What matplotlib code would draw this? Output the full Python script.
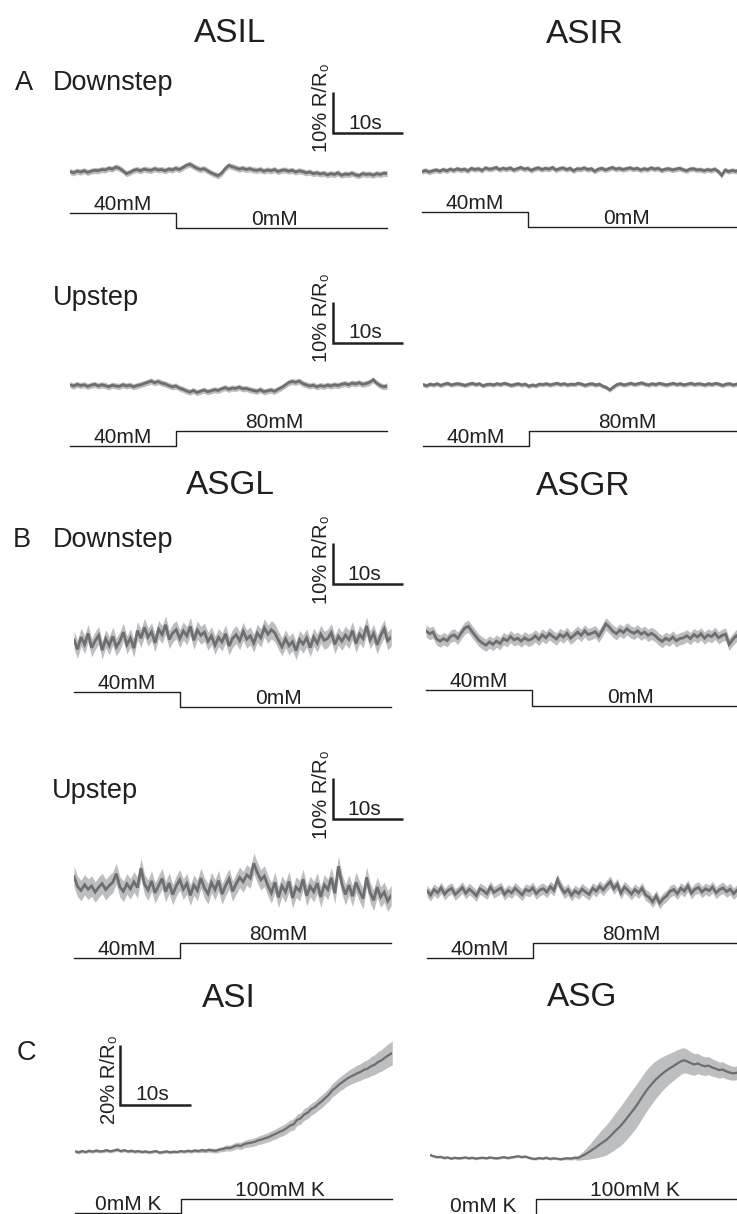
import numpy as np
import matplotlib.pyplot as plt

# ===========================
# Dados (valores lidos da figura, em % R/R0, amostrados a cada 0,5 s)
# ===========================
time = np.linspace(0, 45, 91)
step_time = 15

# A - ASI, downstep 40 -> 0 mM
asil_down = [0.1, -0.2, 0.2, 0.0, 0.3, -0.1, 0.2, 0.4, 0.3, 0.6,
             0.5, 0.9, 0.7, 1.2, 0.9, 0.3, -0.4, -0.1, 0.4, 0.6,
             0.3, 0.7, 0.5, 0.4, 0.8, 0.5, 0.6, 0.3, 0.7, 0.5,
             0.9, 0.6, 1.1, 1.6, 1.9, 1.4, 0.9, 0.6, 0.8, 0.3,
             -0.2, -0.6, -0.9, -0.3, 0.8, 1.6, 1.3, 1.0, 0.7, 0.9,
             0.6, 0.8, 0.5, 0.4, 0.6, 0.2, 0.5, 0.3, 0.6, 0.1,
             0.4, 0.5, 0.2, 0.4, 0.0, 0.3, 0.1, -0.2, 0.0, -0.4,
             -0.2, -0.5, -0.3, -0.7, -0.4, -0.6, -0.2, -0.8, -0.5, -0.6,
             -0.3, -0.7, -0.9, -0.4, -0.6, -0.5, -0.8, -0.4, -0.6, -0.3,
             -0.4]
asir_down = [-0.4, -0.1, -0.5, -0.2, 0.0, -0.3, 0.1, -0.2, 0.2, -0.1,
             0.3, 0.0, 0.2, -0.2, 0.4, 0.1, 0.3, -0.1, 0.5, 0.2,
             0.3, 0.6, 0.1, 0.4, 0.2, 0.5, 0.0, 0.3, 0.6, 0.2,
             0.4, -0.1, 0.3, 0.5, 0.1, 0.4, 0.2, 0.6, 0.0, 0.3,
             0.5, 0.1, 0.4, -0.2, 0.3, 0.2, 0.5, 0.1, 0.3, -0.3,
             0.2, 0.4, 0.0, 0.3, 0.6, 0.2, 0.4, 0.1, 0.3, 0.5,
             0.2, 0.4, 0.0, 0.3, 0.1, 0.5, 0.2, 0.4, -0.1, 0.2,
             0.3, 0.0, 0.2, 0.4, 0.1, -0.2, 0.2, 0.3, 0.0, 0.1,
             -0.2, 0.1, -0.1, 0.2, -0.3, -1.3, 0.0, -0.4, -0.1, -0.3,
             0.0]

# A - ASI, upstep 40 -> 80 mM
asil_up = [0.3, 0.0, 0.4, 0.1, 0.3, -0.1, 0.2, 0.4, 0.0, 0.3,
           0.1, -0.2, 0.2, 0.0, -0.1, 0.3, 0.0, 0.2, -0.2, 0.1,
           0.3, 0.6, 0.9, 1.2, 0.8, 1.1, 0.7, 0.5,
           0.1, -0.2, 0.0, -0.5, -0.8,
           -1.2, -1.5, -1.1, -1.6, -1.3, -1.0, -1.4, -1.2, -0.9, -1.1,
           -0.7, -0.4, -0.8, -0.5, -0.6, -0.3, -0.7, -0.6, -0.9,
           -1.1, -1.3, -0.9, -1.4, -1.2, -1.0, -1.3, -0.8, -0.4,
           0.2, 0.8, 1.1, 0.9, 1.2, 0.6,
           0.3, 0.0, 0.2, -0.2, 0.1, -0.1, 0.2, 0.0, 0.3, 0.1,
           0.4, 0.6, 0.3, 0.7, 0.5, 0.8, 0.4, 0.6, 0.9, 1.5,
           0.7, 0.1, -0.2, 0.0]
asir_up = [0.1, -0.2, 0.2, 0.0, 0.3, -0.1, 0.2, 0.4, 0.0, 0.2,
           0.3, 0.1, -0.1, 0.2, 0.4, 0.1, 0.3, -0.2, 0.1, 0.2,
           0.0, 0.3, 0.1, 0.4, 0.2, -0.1, 0.1, 0.3, 0.0, 0.2,
           -0.3, 0.0, -0.2, 0.2, 0.1, 0.3, 0.0, 0.2, 0.4, 0.1,
           0.3, 0.0, 0.2, 0.1, 0.4, 0.2, -0.1, 0.2, 0.3, 0.0,
           0.2, -0.3, -0.6, -1.2, -0.5, 0.1, 0.3, 0.0, 0.2, 0.4,
           0.1, 0.3, 0.5, 0.2, 0.0, 0.3, 0.1, 0.4, 0.2, 0.0,
           0.2, 0.4, 0.1, 0.3, 0.0, 0.2, 0.4, 0.1, 0.3, 0.2,
           0.0, 0.3, 0.1, 0.4, 0.2, -0.1, 0.2, 0.3, 0.0, 0.2,
           0.1]

# B - ASG, downstep 40 -> 0 mM
asgl_down = [0.5, -1.8, 1.2, -0.6, 2.1, -1.4, 0.3, 1.6, -2.0, 0.8,
             -0.9, 1.4, -1.2, 0.2, 2.4, -0.7, 1.0, -1.5,
             2.8, 0.9, 3.6, 1.2, 2.5, -0.2, 3.1, 1.8, 4.2, 0.6,
             2.2, 3.0, 0.8, 2.7, 1.5, 3.8, 0.4, 2.9, 1.6, 2.4,
             0.2, 1.5, -0.8, 1.1, 0.0, 2.0, -1.0, 0.9,
             1.8, 0.3, 2.6, 0.7, 1.5, -0.3, 2.2, 1.0,
             3.5, 1.9, 3.0, 2.2,
             0.4, -1.2, 0.8, -0.9, 0.1, -2.1, 0.6, -0.5, 1.0, -1.4,
             1.2, -0.3, 1.9, 0.4, 0.9, 2.3, -0.6, 1.4, 0.2, 1.7,
             0.6, 2.8, -0.4, 1.9, 0.8, 3.9, 0.5, 2.1, -0.7, 1.6,
             3.2, 0.3, 1.2]
asgr_down = [1.5, 0.8, 1.2, -0.5, -1.0, -0.4, -0.9, 0.2, 0.5, -0.3,
             1.0, 2.2, 2.6, 1.4, 0.3, -0.8,
             -1.5, -2.0, -1.2, -1.8, -1.0, -1.6,
             -0.4, -0.9, 0.1, -0.7, -0.3, -1.0, -0.2, -0.8, -0.5,
             0.3, -0.6, 0.5, -0.2, 0.8, 0.1, -0.5, 0.6, 0.0, 0.9, -0.3, 0.4,
             1.2, 0.4, 1.5, 0.6, 0.9, 1.3, 0.2, 1.6,
             3.2, 2.4,
             1.4, 0.8, 1.7, 1.1, 2.0, 1.3, 0.9, 1.5,
             0.7, 1.2, 0.4, 0.9, 0.3,
             -0.5, -1.1, -0.3, -0.8, 0.0, -0.9, -0.4, -0.2,
             0.3, -0.4, 0.6, 0.0, 0.8, -0.3, 0.5, 0.1, 0.9, -0.2,
             0.4, 0.7, -1.8, -0.6, 0.3, -0.4, 0.2]

# B - ASG, upstep 40 -> 80 mM
asgl_up = [2.8, 0.4, -0.6, 0.8, -0.3, 0.5, -1.0, 0.2, 1.1, -0.4,
           0.6, 1.4, 3.5, 0.3, -0.8, 1.0, -0.2, 1.5, 0.1, 4.8,
           0.9, -0.5, 1.7, -1.2, 0.6, 2.3, -0.9, 1.2, -1.6, 0.5,
           2.0, -0.3, 1.1, -1.8, 0.7, -0.6, 2.4, 0.0, -1.4, 1.3,
           -0.4, 1.8, -1.5, 0.6, 2.2, -0.8, 1.0, 2.6, 1.5, 3.2,
           2.4, 6.0, 3.8, 2.0, 2.9, 0.6, -1.2, 1.4, -2.3, 0.5,
           -1.0, 1.6, -2.4, 0.2, -0.7, 2.1, -1.9, 0.4, -0.9, 1.2,
           -2.2, 0.8, -0.4, 2.5, -1.3, 5.3, 1.0, -1.6, 0.7, -2.0,
           1.4, -0.8, -2.6, 2.6, -1.1, -3.0, 0.2, -2.2, -1.0, -3.2,
           -1.8]
asgr_up = [0.3, -0.8, 0.6, -0.2, 1.0, -0.5, 0.4, 0.9, -0.6, 0.2,
           1.1, -0.3, 0.7, 0.0, -0.9, 0.8, 0.3, -0.4, 1.2, -0.1,
           0.5, 1.0, -0.6, 0.4, -0.2, 0.9, 0.1, -0.7, 0.6, 0.2,
           1.0, -0.4, 0.5, 0.8, 0.0, 1.3, 0.4, 3.0, 1.1, -0.2,
           0.6, -0.8, 0.3, -0.4, 0.7, 0.0, -0.6, 0.9, 0.2, 1.4,
           0.5, 1.6, 2.5, 0.8, 1.9, -0.3, 1.2, 0.4, -0.5, 0.6,
           -0.2, 0.9, -0.7, -1.3, -2.4, -1.0, -2.7, -1.6, -0.9, 0.2,
           0.6, -0.4, 0.9, 0.2, 1.5, -0.3, 0.7, 1.1, 0.0, 0.8,
           0.3, 1.2, -0.2, 0.6, 1.0, 0.1, 0.7, -0.4, 0.5, 0.9,
           0.2]

# C - 0 -> 100 mM K
asi_k = [0.2, -0.1, 0.3, 0.0, 0.4, 0.1, 0.5, 0.2, 0.3, 0.6,
         0.2, 0.5, 0.8, 0.3, 0.6, 0.2, 0.4, 0.1, 0.3, 0.0,
         0.2, -0.1, 0.1, 0.3, -0.2, 0.0, 0.2, -0.1, 0.1, 0.0,
         0.3, 0.1, 0.4, 0.2, 0.5, 0.3, 0.6, 0.4, 0.7, 0.5,
         0.4, 0.8, 1.0, 1.4, 1.3, 1.8, 2.2, 2.0, 2.6, 2.9,
         3.1, 3.4, 3.9, 4.2, 4.6, 5.0, 5.6, 6.1, 6.7, 7.2,
         7.9, 8.8, 9.2, 10.7, 11.2, 12.5, 13.1, 14.3, 14.9, 16.0,
         16.9, 18.0, 19.1, 20.6, 21.5, 22.6, 23.4, 24.3, 25.0, 25.6,
         26.2, 26.7, 27.4, 27.8, 28.6, 29.1, 30.0, 30.6, 31.5, 32.3,
         33.0]
asi_k_sem = [0.5, 0.6, 0.5, 0.5, 0.6, 0.5, 0.6, 0.5, 0.5, 0.6,
             0.5, 0.5, 0.6, 0.5, 0.5, 0.5, 0.6, 0.5, 0.5, 0.5,
             0.5, 0.5, 0.5, 0.5, 0.5, 0.5, 0.5, 0.5, 0.5, 0.5,
             0.5, 0.5, 0.6, 0.6, 0.6, 0.6, 0.7, 0.7, 0.7, 0.7,
             0.8, 0.8, 0.9, 1.0, 1.0, 1.1, 1.1, 1.2, 1.2, 1.3,
             1.3, 1.4, 1.4, 1.5, 1.5, 1.6, 1.6, 1.7, 1.7, 1.8,
             1.8, 1.8, 1.9, 1.9, 1.9, 2.0, 2.0, 2.0, 2.0, 2.1,
             2.1, 2.1, 2.2, 2.2, 2.3, 2.3, 2.4, 2.4, 2.5, 2.6,
             2.7, 2.8, 2.9, 3.0, 3.2, 3.3, 3.5, 3.6, 3.8, 3.9,
             4.0]
asg_k = [1.0, 0.6, 0.3, 0.4, 0.0, 0.2, -0.2, 0.1, -0.1, 0.0,
         0.2, -0.1, 0.1, -0.2, 0.0, 0.1, -0.1, 0.2, 0.0, -0.1,
         0.1, 0.3, 0.0, 0.2, 0.4, 0.6, 0.3, 0.5, 0.1, -0.2,
         -0.3, 0.0, -0.2, 0.1, -0.3, -0.1, -0.2, -0.4, -0.2, -0.1,
         -0.2, 0.1, 0.0, 0.6, 1.2, 1.9, 2.7, 3.5, 4.4, 5.2,
         6.0, 7.1, 8.3, 9.5, 10.6, 12.0, 13.5, 15.0, 16.5, 18.2,
         20.0, 21.8, 23.4, 24.8, 26.1, 27.2, 28.2, 29.1, 29.9, 30.6,
         31.4, 32.1, 32.6, 32.2, 31.6, 31.2, 31.5, 30.9, 30.6, 30.8,
         30.2, 29.8, 29.3, 29.5, 28.9, 28.5, 28.2, 28.4, 27.7, 27.4,
         27.2]
asg_k_sem = [0.4, 0.4, 0.4, 0.4, 0.4, 0.4, 0.4, 0.4, 0.4, 0.4,
             0.4, 0.4, 0.4, 0.4, 0.4, 0.4, 0.4, 0.4, 0.4, 0.4,
             0.4, 0.4, 0.4, 0.4, 0.4, 0.4, 0.4, 0.4, 0.4, 0.4,
             0.4, 0.4, 0.4, 0.4, 0.4, 0.4, 0.4, 0.4, 0.4, 0.5,
             0.5, 0.6, 0.8, 1.2, 1.7, 2.3, 2.9, 3.5, 4.1, 4.6,
             5.0, 5.4, 5.8, 6.2, 6.5, 6.8, 7.0, 7.1, 7.2, 7.2,
             7.1, 7.0, 6.8, 6.6, 6.3, 6.0, 5.6, 5.3, 5.0, 4.8,
             4.6, 4.4, 4.2, 4.0, 3.8, 3.6, 3.4, 3.2, 3.1, 3.0,
             2.9, 2.8, 2.7, 2.6, 2.5, 2.4, 2.3, 2.3, 2.2, 2.2,
             2.1]

# SEM (constante) dos traços planos
sem_asil_down, sem_asir_down = 0.75, 0.65
sem_asil_up, sem_asir_up = 0.75, 0.55
sem_asgl_down, sem_asgr_down = 2.2, 1.5
sem_asgl_up, sem_asgr_up = 2.5, 1.4

# ===========================
# Figura
# ===========================
W, H = 737, 1214
PX_S = 7.05          # pixels por segundo
INK = '#231f20'
MEAN_C = '#6d6e71'
BAND_C = '#bcbec0'

plt.rcParams['font.family'] = ['Liberation Sans', 'DejaVu Sans']
fig = plt.figure(figsize=(W / 100, H / 100), dpi=100)


def trace(x0, y0, mean, sem, px_pct=4.1, lo=-15, hi=15, lw=2.0):
    # eixo sem moldura: t = 0..45 s, y0 = pixel do valor 0 %
    ax = fig.add_axes([x0 / W, 1 - (y0 - lo * px_pct) / H,
                       45 * PX_S / W, (hi - lo) * px_pct / H])
    ax.set_xlim(0, 45)
    ax.set_ylim(lo, hi)
    ax.axis('off')
    m = np.array(mean)
    s = np.array(sem)
    ax.fill_between(time, m - s, m + s, color=BAND_C, lw=0)
    ax.plot(time, m, color=MEAN_C, lw=lw, solid_joinstyle='miter')
    return ax


def stimulus(x0, y_high, y_low, before, after, lab_before, lab_after):
    ax = fig.add_axes([x0 / W, 1 - y_low / H, 45 * PX_S / W, (y_low - y_high) / H])
    ax.set_xlim(0, 45)
    ax.set_ylim(min(before, after), max(before, after))
    ax.axis('off')
    ax.plot([0, step_time, step_time, 45], [before, before, after, after],
            color=INK, lw=1.0, clip_on=False)
    ax.annotate(lab_before, (7.5, before), xytext=(0, 3), textcoords='offset pixels',
                ha='center', va='baseline', fontsize=15, color=INK, annotation_clip=False)
    ax.annotate(lab_after, (29, after), xytext=(0, 3), textcoords='offset pixels',
                ha='center', va='baseline', fontsize=15, color=INK, annotation_clip=False)


def scale_bar(ax, tb, vb, pct):
    ax.plot([tb, tb, tb + 10], [vb + pct, vb, vb], color=INK, lw=1.8,
            clip_on=False, solid_joinstyle='miter', solid_capstyle='butt')
    ax.annotate(f'{pct}% R/R\u2080', (tb, vb), xytext=(-11, 25), textcoords='offset pixels',
                rotation=90, ha='center', va='center', fontsize=14.5, color=INK,
                annotation_clip=False)
    ax.annotate('10s', (tb, vb), xytext=(32, 10), textcoords='offset pixels',
                ha='center', va='center', fontsize=15, color=INK, annotation_clip=False)


def label(x, y, s, size, ha='left'):
    fig.text(x / W, 1 - y / H, s, ha=ha, va='baseline', fontsize=size, color=INK)


# títulos
label(230, 42, 'ASIL', 24, 'center')
label(585, 43, 'ASIR', 24, 'center')
label(230, 494, 'ASGL', 24, 'center')
label(583, 495, 'ASGR', 24, 'center')
label(229, 1007, 'ASI', 24, 'center')
label(582, 1006, 'ASG', 24, 'center')

label(15, 90, 'A', 19.5)
label(53, 90, 'Downstep', 19.5)
label(53, 305, 'Upstep', 19.5)
label(13, 547, 'B', 19.5)
label(53, 547, 'Downstep', 19.5)
label(52, 798, 'Upstep', 19.5)
label(17, 1060, 'C', 19.5)

# A - downstep
ax = trace(70, 172, asil_down, sem_asil_down)
scale_bar(ax, 37.3, 9.5, 10)
trace(422, 170, asir_down, sem_asir_down)
stimulus(70, 213, 228, 40, 0, '40mM', '0mM')
stimulus(422, 212, 227, 40, 0, '40mM', '0mM')

# A - upstep
ax = trace(70, 386, asil_up, sem_asil_up)
scale_bar(ax, 37.3, 10.5, 10)
trace(423, 385, asir_up, sem_asir_up)
stimulus(70, 431, 446, 40, 80, '40mM', '80mM')
stimulus(423, 431, 446, 40, 80, '40mM', '80mM')

# B - downstep
ax = trace(74, 642, asgl_down, sem_asgl_down)
scale_bar(ax, 36.7, 14.1, 10)
trace(426, 637, asgr_down, sem_asgr_down)
stimulus(74, 692, 707, 40, 0, '40mM', '0mM')
stimulus(426, 690, 706, 40, 0, '40mM', '0mM')

# B - upstep
ax = trace(74, 888, asgl_up, sem_asgl_up)
scale_bar(ax, 36.7, 16.8, 10)
trace(427, 892, asgr_up, sem_asgr_up)
stimulus(74, 943, 958, 40, 80, '40mM', '80mM')
stimulus(427, 943, 958, 40, 80, '40mM', '80mM')

# C - KCl
ax = trace(75, 1152, asi_k, asi_k_sem, px_pct=3.0, lo=-10, hi=42, lw=1.6)
scale_bar(ax, 6.4, 15.7, 20)
trace(430, 1158, asg_k, asg_k_sem, px_pct=3.0, lo=-10, hi=42, lw=1.6)
stimulus(75, 1199, 1213, 0, 100, '0mM K', '100mM K')
stimulus(430, 1199, 1215, 0, 100, '0mM K', '100mM K')

fig.savefig('out.png', dpi=100)
plt.close()
